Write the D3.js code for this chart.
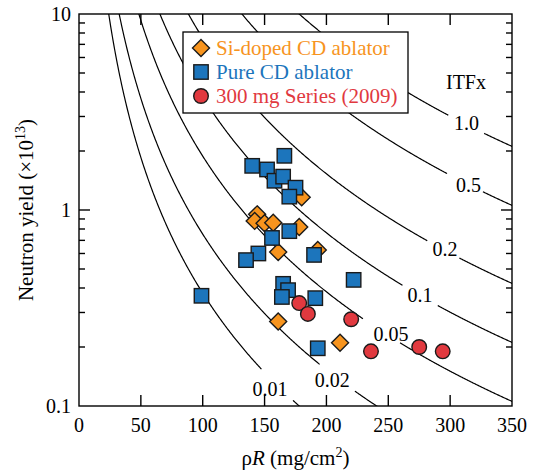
<!DOCTYPE html>
<html><head><meta charset="utf-8">
<script src="https://cdn.jsdelivr.net/npm/d3@7"></script>
<style>body{margin:0;background:#fff}svg text{font-family:"Liberation Serif","Times New Roman",serif}</style>
</head><body>
<svg id="c" width="536" height="475"></svg>
<script>
// ---- data ----
const xTickValues = [0, 50, 100, 150, 200, 250, 300, 350];
const yTickLabels = [0.1, 1, 10];
const itfLevels = [0.01, 0.02, 0.05, 0.1, 0.2, 0.5, 1.0];
const itfLabels = ["0.01", "0.02", "0.05", "0.1", "0.2", "0.5", "1.0"];
const seriesNames = ["Si-doped CD ablator", "Pure CD ablator", "300 mg Series (2009)"];
// [rhoR (mg/cm2), yield (x1e13)]
const siDoped = [[180,1.16],[144,0.95],[142,0.88],[150,0.855],[157,0.86],[178,0.82],[161,0.61],[193,0.625],[161,0.27],[211,0.21]];
const pureCD = [[166,1.89],[140,1.68],[152,1.61],[158,1.41],[165,1.48],[175,1.30],[170,1.17],[170,0.78],[156,0.72],[145,0.60],[135,0.555],[190,0.59],[99,0.365],[165,0.42],[169,0.39],[164,0.36],[191,0.355],[193,0.197],[222,0.44]];
const series2009 = [[178,0.335],[185,0.295],[220,0.277],[236,0.19],[275,0.20],[294,0.19]];
// ITFx contour model: ITFx = (Y/10) * (rhoR/178)^2.3
const itfExponent = 2.3, itfRefRhoR = 178, itfRefYield = 10;

// ---- label placement (data coords) ----
const labelAt = [[154.3,0.1222],[204.8,0.1365],[252.1,0.2328],[275.6,0.3684],[295.8,0.632],[314.8,1.349],[313.2,2.763]];
const labelGap = [[147.6,172.6],[195,222.5],[229.7,259.4],[261.6,289.9],[282,307.4],[298,326.3],[298.8,327.3]];

const svg = d3.select("#c");
const L = 79, R = 512, T = 14, B = 406;
const x = d3.scaleLinear().domain([0, 350]).range([L, R]);
const y = d3.scaleLog().domain([0.1, 10]).range([B, T]);
const ORANGE = "#F7941E", BLUE = "#1C75BC", RED = "#E1393F";

svg.append("defs").append("clipPath").attr("id", "clip")
  .append("rect").attr("x", L).attr("y", T).attr("width", R - L).attr("height", B - T);

// contours
const line = d3.line().x(d => x(d[0])).y(d => y(d[1]));
const gC = svg.append("g").attr("clip-path", "url(#clip)");
itfLevels.forEach((lv, i) => {
  const gap = labelGap[i];
  const segs = [[], []];
  for (let r = 5; r <= 352; r += 0.5) {
    const Y = itfRefYield * lv * Math.pow(itfRefRhoR / r, itfExponent);
    if (Y > 30 || Y < 0.03) continue;
    if (r < gap[0]) segs[0].push([r, Y]);
    else if (r > gap[1]) segs[1].push([r, Y]);
  }
  segs.forEach(s => { if (s.length > 1) gC.append("path").attr("d", line(s)).attr("fill", "none").attr("stroke", "#000").attr("stroke-width", 1.2); });
});
itfLevels.forEach((lv, i) => {
  svg.append("text").attr("x", x(labelAt[i][0])).attr("y", y(labelAt[i][1])).attr("text-anchor", "middle")
    .attr("dominant-baseline", "central").attr("font-size", 20).text(itfLabels[i]);
});
svg.append("text").attr("x", x(312.8)).attr("y", y(4.5)).attr("text-anchor", "middle")
  .attr("dominant-baseline", "central").attr("font-size", 20).text("ITFx");

// frame + ticks
svg.append("rect").attr("x", L).attr("y", T).attr("width", R - L).attr("height", B - T)
  .attr("fill", "none").attr("stroke", "#000").attr("stroke-width", 1.4);
const tk = svg.append("g").attr("stroke", "#000").attr("stroke-width", 1.4);
xTickValues.slice(1, -1).forEach(v => {
  tk.append("line").attr("x1", x(v)).attr("x2", x(v)).attr("y1", B).attr("y2", B - 11);
  tk.append("line").attr("x1", x(v)).attr("x2", x(v)).attr("y1", T).attr("y2", T + 11);
});
const minor = [];
[0.1, 1].forEach(d => { for (let k = 2; k <= 9; k++) minor.push(d * k); });
minor.forEach(v => {
  tk.append("line").attr("x1", L).attr("x2", L + 6).attr("y1", y(v)).attr("y2", y(v));
  tk.append("line").attr("x1", R).attr("x2", R - 6).attr("y1", y(v)).attr("y2", y(v));
});
tk.append("line").attr("x1", L).attr("x2", L + 11).attr("y1", y(1)).attr("y2", y(1));
tk.append("line").attr("x1", R).attr("x2", R - 11).attr("y1", y(1)).attr("y2", y(1));

xTickValues.forEach(v => svg.append("text").attr("x", x(v)).attr("y", 432).attr("text-anchor", "middle")
  .attr("font-size", 20).text(v));
yTickLabels.forEach(v => svg.append("text").attr("x", 71).attr("y", y(v)).attr("text-anchor", "end")
  .attr("dominant-baseline", "central").attr("font-size", 20).text(v));

// axis titles
const xt = svg.append("text").attr("x", x(175)).attr("y", 465).attr("text-anchor", "middle").attr("font-size", 21);
xt.append("tspan").text("ρ");
xt.append("tspan").attr("font-style", "italic").text("R");
xt.append("tspan").text(" (mg/cm");
xt.append("tspan").attr("font-size", 14).attr("dy", -8).text("2");
xt.append("tspan").attr("dy", 8).text(")");
const yt = svg.append("text").attr("transform", `translate(33,${y(1)}) rotate(-90)`).attr("text-anchor", "middle").attr("font-size", 21);
yt.append("tspan").text("Neutron yield (×10");
yt.append("tspan").attr("font-size", 14).attr("dy", -8).text("13");
yt.append("tspan").attr("dy", 8).text(")");

// markers
function diamond(g, cx, cy, s) {
  g.append("path").attr("d", `M${cx},${cy - s}L${cx + s},${cy}L${cx},${cy + s}L${cx - s},${cy}Z`)
    .attr("fill", ORANGE).attr("stroke", "#1a1a1a").attr("stroke-width", 1.4);
}
function square(g, cx, cy, s) {
  g.append("rect").attr("x", cx - s).attr("y", cy - s).attr("width", 2 * s).attr("height", 2 * s)
    .attr("fill", BLUE).attr("stroke", "#1a1a1a").attr("stroke-width", 1.4);
}
function circle(g, cx, cy, r) {
  g.append("circle").attr("cx", cx).attr("cy", cy).attr("r", r)
    .attr("fill", RED).attr("stroke", "#1a1a1a").attr("stroke-width", 1.4);
}
const gm = svg.append("g");
siDoped.forEach(d => diamond(gm, x(d[0]), y(d[1]), 8.5));
pureCD.forEach(d => square(gm, x(d[0]), y(d[1]), 7.2));
series2009.forEach(d => circle(gm, x(d[0]), y(d[1]), 7.3));

// legend
const lg = svg.append("g");
lg.append("rect").attr("x", 183).attr("y", 32).attr("width", 225).attr("height", 81)
  .attr("fill", "#fff").attr("stroke", "#000").attr("stroke-width", 1.3);
const rowsY = [48, 72, 96], colors = [ORANGE, BLUE, RED];
diamond(lg, 201, rowsY[0], 8.5);
square(lg, 201, rowsY[1], 7.2);
circle(lg, 201, rowsY[2], 7.3);
seriesNames.forEach((n, i) => lg.append("text").attr("x", 216).attr("y", rowsY[i]).attr("dominant-baseline", "central")
  .attr("font-size", 21).attr("fill", colors[i]).text(n));
</script>
</body></html>
